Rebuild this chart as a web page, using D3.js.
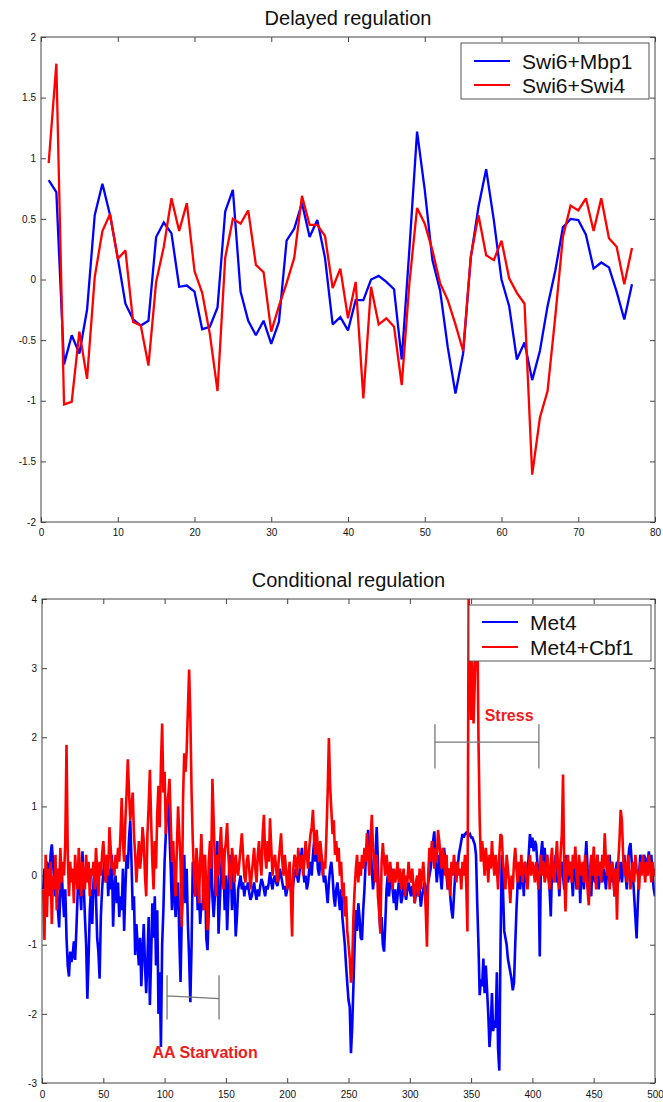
<!DOCTYPE html>
<html>
<head>
<meta charset="utf-8">
<script src="https://cdn.jsdelivr.net/npm/d3@7"></script>
<style>
    body { margin: 0; background: #fff; }
    svg { display: block; font-family: "Liberation Sans", Arial, sans-serif; }
    .axis path { display: none; }
    .axis line { stroke: #444; }
    .axis text { font-size: 10px; fill: #111; }
    .frame { fill: none; stroke: #444; stroke-width: 1; }
    .chart-title { font-size: 20px; fill: #111; }
    .legend-box { fill: #fff; stroke: #555; stroke-width: 1; }
    .legend text { font-size: 21px; fill: #111; }
    .note { font-size: 16px; font-weight: bold; fill: #ee1c1c; }
    .bracket { stroke: #777; stroke-width: 1.3; fill: none; }
</style>
</head>
<body>
<div id="chart"></div>
<script>
// ---- Delayed regulation (x = 1..77) ----
const delayedLabels = ['Swi6+Mbp1', 'Swi6+Swi4'];

const delayedMbp1 = [
    0.82, 0.72, -0.70, -0.46, -0.61, -0.25, 0.53, 0.79, 0.53, 0.18,
    -0.20, -0.33, -0.38, -0.34, 0.35, 0.47, 0.38, -0.06, -0.05, -0.10,
    -0.41, -0.39, -0.23, 0.56, 0.74, -0.10, -0.34, -0.46, -0.34, -0.53,
    -0.35, 0.32, 0.42, 0.63, 0.35, 0.49, 0.18, -0.37, -0.31, -0.42,
    -0.17, -0.17, 0.00, 0.03, -0.02, -0.08, -0.66, 0.25, 1.22, 0.74,
    0.16, -0.09, -0.56, -0.94, -0.61, 0.18, 0.60, 0.91, 0.49, 0.00,
    -0.22, -0.66, -0.52, -0.83, -0.59, -0.22, 0.07, 0.43, 0.50, 0.49,
    0.37, 0.09, 0.14, 0.10, -0.10, -0.33, -0.04
];

const delayedSwi4 = [
    0.96, 1.78, -1.03, -1.01, -0.43, -0.82, 0.02, 0.40, 0.54, 0.17,
    0.24, -0.35, -0.38, -0.71, -0.02, 0.27, 0.67, 0.40, 0.63, 0.07,
    -0.11, -0.45, -0.92, 0.18, 0.50, 0.46, 0.57, 0.12, 0.06, -0.43,
    -0.22, -0.03, 0.18, 0.69, 0.45, 0.45, 0.36, -0.07, 0.09, -0.32,
    -0.02, -0.98, -0.06, -0.37, -0.32, -0.39, -0.87, -0.03, 0.59, 0.46,
    0.24, -0.03, -0.17, -0.37, -0.59, 0.19, 0.53, 0.20, 0.16, 0.32,
    0.01, -0.11, -0.20, -1.61, -1.14, -0.92, -0.31, 0.35, 0.61, 0.57,
    0.67, 0.40, 0.67, 0.34, 0.27, -0.04, 0.26
];

const delayedXTicks = [0, 10, 20, 30, 40, 50, 60, 70, 80];
const delayedYTicks = [-2, -1.5, -1, -0.5, 0, 0.5, 1, 1.5, 2];

// ---- Conditional regulation (x = 1..500) ----
const conditionalLabels = ['Met4', 'Met4+Cbf1'];

const conditionalMet4 = [
    -0.2, 0.1, -0.4, 0.2, 0.15, -0.1, 0.3, 0.45, 0.2, -0.1,
    -0.3, 0.0, -0.5, -0.75, -0.2, 0.1, -0.3, -0.6, -0.2, -0.9,
    -1.3, -1.46, -1.1, -1.25, -1.15, -0.95, -1.22, -0.8, -0.3, 0.2,
    -0.2, -0.5, 0.35, -0.1, -0.6, -1.0, -1.78, -1.2, -0.5, -0.2,
    -0.7, -0.1, 0.2, -0.3, -0.9, -1.1, -1.49, -0.6, -0.2, 0.05,
    0.2, -0.1, 0.25, -0.3, 0.1, -0.2, 0.3, -0.74, -0.2, 0.0,
    -0.4, -0.1, -0.6, -0.3, -0.5, 0.1, -0.8, -0.2, 0.3, 0.1,
    0.55, 0.8, 0.2, -0.5, -0.3, -1.15, -0.7, -1.0, -1.3, -0.9,
    -1.6, -1.1, -0.7, -1.3, -1.7, -1.2, -0.6, -1.87, -1.2, -0.4,
    -0.9, -0.3, -1.3, -0.5, -2.0, -1.4, -2.48, -1.0, -0.5, 0.2,
    0.6, 1.0, 1.17, 0.6, 0.1, -0.5, 0.2, -0.3, -0.6, -0.2,
    -0.1, -0.9, -1.54, -0.6, -0.2, 0.3, -0.4, 0.1, -0.7, -1.2,
    -1.83, -1.0, 0.2, 0.0, -0.3, 0.1, -0.5, -0.2, -0.7, -0.4,
    -0.5, 0.3, 0.0, -0.9, -1.08, -0.5, 0.0, 0.45, -0.3, -0.6,
    -0.3, 0.2, 0.5, -0.84, -0.4, 0.0, 0.4, 0.2, -0.5, 0.0,
    -0.79, -0.3, 0.3, 0.1, -0.5, 0.1, -0.2, -0.88, -0.6, -0.2,
    -0.1, 0.0, -0.2, -0.1, -0.3, -0.15, -0.2, -0.1, -0.25, -0.35,
    -0.3, -0.2, -0.1, -0.25, -0.35, -0.2, -0.3, -0.15, -0.05, -0.1,
    -0.2, -0.3, -0.15, -0.2, -0.1, 0.05, -0.1, -0.2, -0.05, 0.0,
    -0.1, -0.15, -0.05, 0.1, 0.0, -0.1, -0.2, -0.15, -0.3, -0.2,
    -0.1, 0.0, -0.2, -0.3, -0.1, 0.0, 0.1, 0.0, -0.1, 0.05,
    0.2, 0.4, 0.1, -0.1, 0.0, -0.2, -0.1, 0.1, 0.2, 0.0,
    0.3, 0.5, 0.2, 0.45, 0.1, 0.0, 0.2, 0.3, 0.1, -0.1,
    0.0, -0.2, -0.4, -0.1, 0.1, 0.2, 0.0, -0.3, -0.45, -0.2,
    -0.1, -0.3, -0.5, -0.2, -0.6, -0.8, -1.0, -1.3, -1.56, -1.8,
    -1.9, -2.57, -2.2, -1.6, -1.0, -0.5, -0.8, -0.4, -0.6, -0.9,
    -0.93, -0.5, -0.2, 0.2, 0.4, 0.66, 0.3, 0.5, 0.1, -0.2,
    0.0, 0.3, 0.7, 0.2, -0.5, -0.8, -0.6, -1.0, -1.1, -0.7,
    -0.2, 0.0, -0.3, -0.1, 0.1, -0.2, -0.4, -0.2, -0.5, -0.3,
    -0.1, -0.2, -0.4, -0.3, -0.1, -0.25, -0.35, -0.2, -0.1, -0.2,
    -0.3, -0.15, -0.2, -0.4, -0.25, -0.1, -0.3, -0.2, -0.45, -0.3,
    -0.2, -0.1, -0.3, -0.2, -0.1, 0.0, 0.1, 0.3, 0.5, 0.64,
    0.2, -0.1, 0.1, 0.3, 0.0, -0.2, 0.1, 0.4, 0.2, 0.0,
    -0.2, 0.1, -0.3, -0.5, -0.62, -0.3, 0.0, 0.2, 0.1, 0.3,
    0.4, 0.5, 0.6, 0.55, 0.6, 0.62, 0.6, 0.58, 0.6, 0.55,
    0.55, 0.5, 0.45, 0.3, -0.4, -1.0, -1.73, -1.5, -1.6, -1.2,
    -1.7, -1.3, -1.65, -2.0, -2.48, -2.2, -1.7, -2.25, -2.1, -2.2,
    -1.4, -2.5, -2.82, -1.0, 0.3, -0.2, -0.8, -0.9, -1.0, -1.2,
    -1.3, -1.4, -1.5, -1.66, -1.55, -1.0, -0.5, -0.1, 0.1, -0.2,
    0.0, 0.1, -0.3, 0.2, -0.1, 0.0, 0.3, 0.6, 0.4, 0.55,
    0.35, 0.5, 0.45, 0.2, 0.0, -1.17, 0.3, 0.5, 0.2, 0.4,
    0.1, 0.3, 0.0, -0.2, -0.59, 0.1, 0.2, 0.0, 0.3, -0.1,
    0.0, -0.3, 0.1, 0.2, 0.0, -0.2, 0.3, 0.1, -0.1, 0.0,
    0.2, 0.0, -0.3, 0.1, 0.3, -0.2, 0.0, 0.2, -0.4, 0.1,
    0.0, -0.2, 0.2, 0.5, 0.1, -0.1, 0.0, -0.3, 0.2, 0.0,
    -0.1, 0.1, 0.3, -0.2, 0.0, 0.2, -0.1, 0.1, 0.0, -0.2,
    0.1, 0.0, 0.3, -0.1, 0.2, 0.0, -0.3, 0.1, 0.2, -0.1,
    0.0, 0.2, -0.1, 0.1, 0.3, 0.0, -0.2, 0.2, 0.4, 0.47,
    0.2, 0.0, -0.3, -0.6, -0.91, -0.4, 0.0, 0.3, 0.2, 0.1,
    0.3, 0.25, 0.0, 0.2, 0.35, 0.1, 0.3, 0.0, -0.2, -0.3
];

const conditionalCbf1 = [
    -0.2, -0.93, 0.3, -0.6, 0.1, -0.3, 0.2, -0.7, 0.0, -0.2,
    0.3, -0.5, 0.1, -0.2, 0.4, -0.1, 0.2, 0.0, 0.5, 1.89,
    0.3, -0.3, 0.2, -0.1, 0.1, -0.4, 0.3, 0.0, -0.2, 0.4,
    0.1, -0.3, 0.2, 0.0, -0.2, 0.3, -0.1, 0.2, -0.3, 0.1,
    0.0, 0.2, -0.2, 0.4, 0.1, -0.3, 0.2, 0.0, 0.3, 0.5,
    0.2, -0.1, 0.3, 0.0, 0.7, 0.4, 0.1, 0.2, 0.0, 0.3,
    0.1, 0.4, 0.2, 0.6, 1.12, 0.5, 0.2, 0.8, 1.2, 1.68,
    1.2, 0.8, 1.0, 1.2, 0.6, 0.3, -0.1, 0.2, 0.5, 0.1,
    0.3, 0.7, 0.5, 0.0, -0.3, 0.6, 1.0, 1.53, 0.8, 0.2,
    -0.2, 0.5, 0.1, 0.9, 1.3, 0.7, 1.6, 2.2, 1.2, 1.5,
    0.6, 1.0, 1.15, 1.4, 0.8, 0.2, 0.5, 0.0, -0.3, 0.4,
    1.0, 0.6, 0.2, -0.74, 1.07, 1.77, 1.5, 1.8, 2.4, 2.98,
    2.3, 1.2, 0.5, 0.0, -0.3, 0.4, 0.1, -0.4, 0.2, 0.6,
    0.0, -0.5, 0.3, -0.2, -0.79, 0.2, 0.5, 0.1, 1.40, 0.8,
    0.2, -0.3, 0.3, 0.0, 0.4, 0.7, 0.2, -0.2, 0.3, 0.5,
    0.76, 0.3, 0.0, -0.2, 0.4, 0.2, -0.1, 0.3, 0.1, 0.0,
    0.2, 0.4, 0.61, 0.3, 0.0, -0.1, 0.2, 0.3, 0.1, -0.2,
    0.0, 0.2, 0.4, 0.1, -0.1, 0.3, 0.5, 0.2, 0.0, 0.6,
    0.88, 0.3, 0.1, 0.5, 0.2, 0.83, 0.4, 0.0, 0.2, 0.3,
    0.1, -0.1, 0.2, 0.4, 0.61, 0.2, 0.0, 0.3, 0.1, -0.2,
    0.0, 0.2, -0.3, -0.88, 0.1, 0.3, 0.2, 0.0, 0.4, 0.2,
    0.1, 0.3, 0.0, 0.2, 0.5, 0.3, 0.1, 0.4, 0.6, 0.7,
    0.95, 0.5, 0.3, 0.66, 0.4, 0.2, 0.5, 0.3, 0.0, 0.2,
    0.1, 0.6, 1.2, 1.99, 1.3, 0.95, 0.6, 0.8, 0.3, 0.5,
    0.2, 0.4, 0.0, 0.2, -0.3, -0.1, -0.59, -0.3, -0.8, -1.0,
    -1.2, -1.55, -1.3, -0.6, -0.2, 0.1, 0.3, -0.1, 0.2, 0.0,
    0.3, 0.1, 0.4, 0.2, 0.61, 0.3, 0.0, 0.5, 0.88, 0.4,
    0.2, -0.1, 0.3, -0.3, -0.5, -0.84, 0.2, 0.47, 0.2, 0.0,
    0.3, 0.1, -0.1, 0.2, 0.0, -0.2, 0.1, -0.1, 0.0, 0.2,
    -0.1, 0.1, -0.2, 0.0, 0.1, -0.3, 0.0, -0.1, 0.2, 0.0,
    -0.1, 0.1, -0.2, -0.4, -0.1, 0.0, -0.3, 0.1, -0.2, 0.0,
    0.2, -0.1, -0.5, -1.03, 0.0, 0.4, 0.2, 0.5, 0.3, 0.1,
    0.4, 0.2, 0.66, 0.5, 0.3, 0.1, 0.4, 0.2, 0.0, 0.3,
    -0.2, 0.1, -0.3, 0.2, 0.0, 0.3, 0.1, -0.1, 0.2, 0.0,
    0.1, -0.2, 0.2, 0.0, 0.3, -0.1, -0.81, 4.0, 3.0, 2.25,
    3.1, 2.2, 2.8, 3.5, 3.85, 2.0, 0.8, 0.2, 0.5, 0.3,
    0.0, 0.4, 0.2, -0.1, 0.3, 0.1, 0.5, 0.2, 0.0, 0.3,
    0.1, -0.2, 0.3, 0.6, 0.57, 0.2, 0.0, -0.2, 0.3, 0.1,
    -0.1, -0.4, 0.0, -0.2, 0.2, 0.4, 0.1, -0.1, 0.2, 0.0,
    0.3, -0.1, 0.1, 0.2, 0.0, -0.2, 0.1, 0.3, 0.0, 0.2,
    0.1, -0.1, 0.2, 0.0, -0.2, 0.1, 0.3, 0.0, 0.2, -0.1,
    0.0, 0.3, 0.1, -0.2, 0.2, 0.4, 0.0, -0.1, 0.2, 0.5,
    0.1, -0.2, 0.3, 0.6, 1.46, 0.0, -0.52, 0.1, 0.3, 0.0,
    0.2, -0.1, 0.3, 0.1, 0.42, 0.0, -0.2, 0.3, 0.1, 0.0,
    0.2, -0.1, 0.3, 0.0, -0.2, -0.43, 0.1, 0.3, 0.0, 0.42,
    0.1, -0.2, 0.3, 0.0, 0.2, -0.1, 0.3, 0.1, 0.61, 0.2,
    0.0, 0.3, -0.2, 0.1, 0.2, 0.0, -0.3, 0.1, -0.64, 0.2,
    0.5, 0.95, 0.8, 0.3, 0.0, 0.2, -0.1, 0.3, 0.1, -0.2,
    0.0, 0.2, -0.1, 0.3, 0.1, 0.0, -0.2, 0.2, 0.0, 0.3,
    0.1, -0.1, 0.2, 0.0, 0.3, 0.1, -0.1, 0.2, 0.0, 0.1
];

const conditionalXTicks = [0, 50, 100, 150, 200, 250, 300, 350, 400, 450, 500];
const conditionalYTicks = [-3, -2, -1, 0, 1, 2, 3, 4];

// bracket annotations (data units)
const conditionalNotes = [
    {label: 'Stress', tx: 381, ty: 2.23, x0: 320.5, x1: 405.3, y0: 1.93, y1: 1.93, lo: 1.55, hi: 2.19},
    {label: 'AA Starvation', tx: 133, ty: -2.64, x0: 102, x1: 144.4, y0: -1.74, y1: -1.78, lo: -2.08, hi: -1.44}
];

const colors = ['#0000ff', '#ff0000'];

class LineChart {

    /**
     * one MATLAB-style panel: boxed axes, inward ticks, legend in the corner
     */
    constructor(_config, _series) {
        this.config = {
            parentElement: _config.parentElement,
            id: _config.id,
            left: _config.left,
            top: _config.top,
            width: _config.width,
            height: _config.height,
            title: _config.title,
            xDomain: _config.xDomain,
            yDomain: _config.yDomain,
            xTicks: _config.xTicks,
            yTicks: _config.yTicks,
            xPadding: _config.xPadding || 7,
            lineWidth: _config.lineWidth || 2,
            legend: _config.legend,
            notes: _config.notes || []
        };
        this.series = _series;
        this.initVis();
    }

    initVis() {
        let vis = this;
        const c = vis.config;

        vis.chart = d3.select(c.parentElement).append('g')
            .attr('transform', `translate(${c.left},${c.top})`);

        vis.xScale = d3.scaleLinear().domain(c.xDomain).range([0, c.width]);
        vis.yScale = d3.scaleLinear().domain(c.yDomain).range([c.height, 0]);

        const fmt = d => String(d);

        vis.chart.append('g')
            .attr('class', 'axis x-axis')
            .attr('transform', `translate(0,${c.height})`)
            .call(d3.axisBottom(vis.xScale).tickValues(c.xTicks)
                .tickSize(-5).tickPadding(c.xPadding).tickFormat(fmt));

        vis.chart.append('g')
            .attr('class', 'axis')
            .call(d3.axisTop(vis.xScale).tickValues(c.xTicks)
                .tickSize(-5).tickFormat(''));

        vis.chart.append('g')
            .attr('class', 'axis y-axis')
            .call(d3.axisLeft(vis.yScale).tickValues(c.yTicks)
                .tickSize(-5).tickPadding(5).tickFormat(fmt));

        vis.chart.append('g')
            .attr('class', 'axis')
            .attr('transform', `translate(${c.width},0)`)
            .call(d3.axisRight(vis.yScale).tickValues(c.yTicks)
                .tickSize(-5).tickFormat(''));

        vis.chart.append('defs').append('clipPath')
            .attr('id', c.id + '-clip')
            .append('rect')
            .attr('width', c.width)
            .attr('height', c.height);

        vis.lineG = vis.chart.append('g')
            .attr('clip-path', `url(#${c.id}-clip)`);

        vis.chart.append('rect')
            .attr('class', 'frame')
            .attr('width', c.width)
            .attr('height', c.height);

        vis.chart.append('text')
            .attr('class', 'chart-title')
            .attr('x', c.width / 2)
            .attr('y', -12)
            .attr('text-anchor', 'middle')
            .text(c.title);

        vis.updateVis();
    }

    updateVis() {
        let vis = this;

        vis.lineData = vis.series.map((s, i) => ({
            label: s.label,
            color: colors[i],
            points: s.values.map((v, j) => ({x: j + 1, y: v}))
        }));

        vis.line = d3.line()
            .x(d => vis.xScale(d.x))
            .y(d => vis.yScale(d.y));

        vis.renderVis();
    }

    renderVis() {
        let vis = this;
        const c = vis.config;

        vis.lineG.selectAll('.series')
            .data(vis.lineData)
            .join('path')
            .attr('class', 'series')
            .attr('fill', 'none')
            .attr('stroke', d => d.color)
            .attr('stroke-width', c.lineWidth)
            .attr('stroke-linejoin', 'miter')
            .attr('stroke-miterlimit', 2)
            .attr('d', d => vis.line(d.points));

        // bracket annotations
        const notes = vis.chart.selectAll('.note-g')
            .data(c.notes)
            .join('g')
            .attr('class', 'note-g');

        notes.append('path')
            .attr('class', 'bracket')
            .attr('d', d => {
                const x0 = vis.xScale(d.x0), x1 = vis.xScale(d.x1);
                const lo = vis.yScale(d.lo), hi = vis.yScale(d.hi);
                return `M${x0},${hi}V${lo}M${x0},${vis.yScale(d.y0)}L${x1},${vis.yScale(d.y1)}` +
                    `M${x1},${hi}V${lo}`;
            });

        notes.append('text')
            .attr('class', 'note')
            .attr('x', d => vis.xScale(d.tx))
            .attr('y', d => vis.yScale(d.ty))
            .attr('text-anchor', 'middle')
            .text(d => d.label);

        // legend
        const lg = c.legend;
        const legend = vis.chart.append('g')
            .attr('class', 'legend')
            .attr('transform', `translate(${lg.x},${lg.y})`);

        legend.append('rect')
            .attr('class', 'legend-box')
            .attr('width', lg.width)
            .attr('height', lg.height);

        const rows = legend.selectAll('.row')
            .data(vis.lineData)
            .join('g')
            .attr('class', 'row')
            .attr('transform', (d, i) => `translate(0,${lg.rows[i]})`);

        rows.append('line')
            .attr('x1', 13).attr('x2', 49)
            .attr('stroke', d => d.color)
            .attr('stroke-width', 2.2);

        rows.append('text')
            .attr('x', 61)
            .attr('dy', '0.36em')
            .text(d => d.label);
    }
}

const svg = d3.select('#chart').append('svg')
    .attr('width', 663)
    .attr('height', 1102);

svg.append('rect').attr('width', 663).attr('height', 1102).attr('fill', '#fff');

new LineChart({
    parentElement: svg.node(),
    id: 'delayed',
    left: 41, top: 37, width: 614, height: 485,
    title: 'Delayed regulation',
    xDomain: [0, 80], yDomain: [-2, 2],
    xTicks: delayedXTicks, yTicks: delayedYTicks,
    xPadding: 7,
    lineWidth: 2.3,
    legend: {x: 420, y: 6, width: 188, height: 56, rows: [18, 42]}
}, [
    {label: delayedLabels[0], values: delayedMbp1},
    {label: delayedLabels[1], values: delayedSwi4}
]);

new LineChart({
    parentElement: svg.node(),
    id: 'conditional',
    left: 42, top: 599, width: 613, height: 484,
    title: 'Conditional regulation',
    xDomain: [0, 500], yDomain: [-3, 4],
    xTicks: conditionalXTicks, yTicks: conditionalYTicks,
    xPadding: 8,
    lineWidth: 2.6,
    legend: {x: 427, y: 6, width: 182, height: 56, rows: [17, 42]},
    notes: conditionalNotes
}, [
    {label: conditionalLabels[0], values: conditionalMet4},
    {label: conditionalLabels[1], values: conditionalCbf1}
]);
</script>
</body>
</html>
